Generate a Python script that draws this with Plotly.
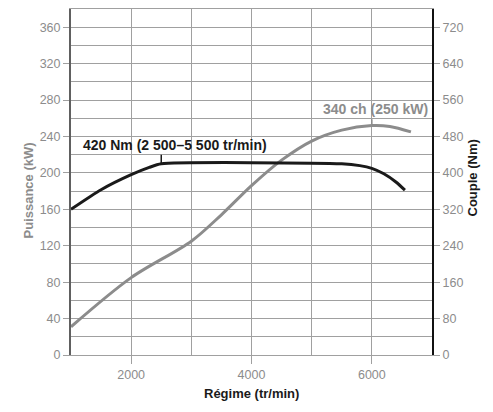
import plotly.graph_objects as go

# Data
rpm_power = [1000, 2000, 3000, 3500, 4000, 4500, 5000, 5500, 6000, 6300, 6650]
power_kw = [31, 85, 125, 154, 186, 214, 235, 247, 252, 251, 245]

rpm_torque = [1000, 1500, 2000, 2300, 2500, 5500, 5800, 6000, 6200, 6400, 6550]
torque_nm = [320, 363, 396, 412, 420, 420, 416, 410, 398, 380, 362]

x_ticks = [2000, 4000, 6000]
y_ticks_kw = [0, 40, 80, 120, 160, 200, 240, 280, 320, 360]
y_ticks_nm = [0, 80, 160, 240, 320, 400, 480, 560, 640, 720]

torque_label = "420 Nm (2 500–5 500 tr/min)"
power_label = "340 ch (250 kW)"

GRAY = "#8c8c8c"
GRID = "#a0a0a0"
FONT = "Liberation Sans, Arial"

# page body has an 8px margin: size the figure to fit the window
OFF = 8
W, H = 493 - OFF, 412 - OFF
ML, MR, MT, MB = 71 - OFF, 61, 9 - OFF, 57
PW, PH = W - ML - MR, H - MT - MB


def px_x(px):
    return (px - OFF - ML) / PW


def px_y(py):
    return 1 - (py - OFF - MT) / PH


fig = go.Figure()
fig.add_trace(go.Scatter(x=rpm_power, y=power_kw, mode="lines",
                         line=dict(color=GRAY, width=3, shape="spline", smoothing=0.9),
                         yaxis="y", showlegend=False))
fig.add_trace(go.Scatter(x=rpm_torque, y=torque_nm, mode="lines",
                         line=dict(color="#1a1a1a", width=3, shape="spline", smoothing=0.6),
                         yaxis="y2", showlegend=False))

tickfont = dict(family="Liberation Sans, Arial", size=12.5, color=GRAY)

fig.update_layout(
    width=W, height=H,
    margin=dict(l=ML, r=MR, t=MT, b=MB, autoexpand=False),
    paper_bgcolor="white", plot_bgcolor="white",
    xaxis=dict(range=[1000, 7000], tickvals=x_ticks, ticks="outside", ticklen=8, tickcolor=GRID,
               showgrid=True, gridcolor=GRID, gridwidth=1,
               minor=dict(dtick=1000, tick0=0, showgrid=True, gridcolor=GRID, gridwidth=1),
               showline=True, linecolor=GRID, linewidth=1, mirror=True,
               tickfont=tickfont, zeroline=False, automargin=False),
    yaxis=dict(range=[0, 380], tickvals=y_ticks_kw, ticks="outside", ticklen=6, tickcolor=GRID,
               showgrid=True, gridcolor=GRID, gridwidth=1,
               minor=dict(dtick=20, tick0=0, showgrid=True, gridcolor=GRID, gridwidth=1),
               showline=True, linecolor="#606060", linewidth=2, zeroline=False,
               tickfont=tickfont, automargin=False),
    yaxis2=dict(range=[0, 760], tickvals=y_ticks_nm, ticks="outside", ticklen=6, tickcolor=GRID,
                overlaying="y", side="right", showgrid=False, zeroline=False,
                showline=True, linecolor="#111111", linewidth=2,
                tickfont=tickfont, automargin=False),
)

# Axis titles
fig.add_annotation(x=px_x(18), y=px_y(190), xref="paper", yref="paper", text="<b>Puissance (kW)</b>",
                   showarrow=False, textangle=-90,
                   font=dict(family=FONT, size=13, color=GRAY))
fig.add_annotation(x=px_x(481), y=px_y(178), xref="paper", yref="paper", text="<b>Couple (Nm)</b>",
                   showarrow=False, textangle=-90,
                   font=dict(family=FONT, size=13, color="#1a1a1a"))
fig.add_annotation(x=px_x(251), y=px_y(403), xref="paper", yref="paper", text="<b>Régime (tr/min)</b>",
                   showarrow=False,
                   font=dict(family=FONT, size=13, color="#1a1a1a"))

# Torque label with small leader line at the start of the plateau
t_x = rpm_torque[torque_nm.index(max(torque_nm))]
t_y = max(torque_nm)
fig.add_shape(type="line", xref="x", yref="y2", x0=t_x, x1=t_x, y0=t_y, y1=t_y + 20,
              line=dict(color="#1a1a1a", width=1.5))
fig.add_annotation(x=t_x + 230, y=t_y + 20, xref="x", yref="y2", text="<b>" + torque_label + "</b>",
                   showarrow=False, yanchor="bottom", xanchor="center",
                   font=dict(family=FONT, size=14, color="#1a1a1a"))

# Power label with small leader line at the peak
p_i = power_kw.index(max(power_kw))
p_x = rpm_power[p_i]
p_y = power_kw[p_i]
fig.add_shape(type="line", xref="x", yref="y", x0=p_x, x1=p_x, y0=p_y, y1=p_y + 7,
              line=dict(color=GRAY, width=1.5))
fig.add_annotation(x=p_x + 60, y=p_y + 7, xref="x", yref="y", text="<b>" + power_label + "</b>",
                   showarrow=False, yanchor="bottom", xanchor="center",
                   font=dict(family=FONT, size=14, color=GRAY))

fig.write_html("out.html")
